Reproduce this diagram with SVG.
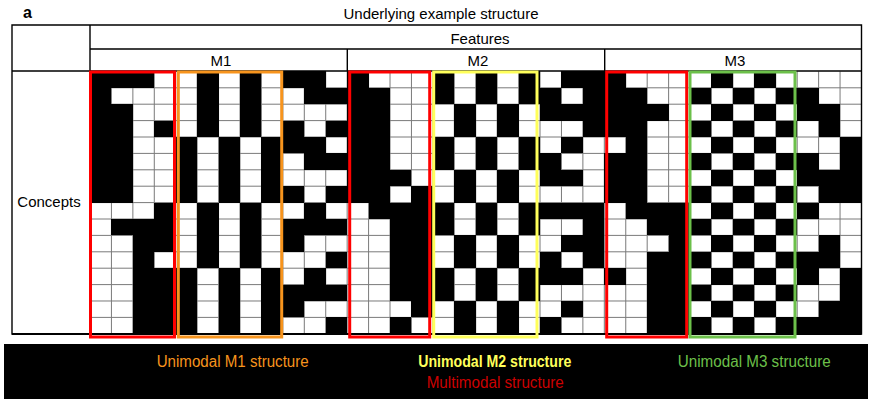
<svg xmlns="http://www.w3.org/2000/svg" width="872" height="402" viewBox="0 0 872 402">
<style>
text{font-family:"Liberation Sans",Arial,sans-serif;font-size:15px;fill:#000}
.c{text-anchor:middle}
.tl{fill:none;stroke:#000;stroke-width:1.4}
.gl{fill:none;stroke:#7a7a7a;stroke-width:1}
.k{fill:#000;shape-rendering:crispEdges}
.box{fill:none;stroke-width:3}
.lg{font-size:16px}
</style>
<rect width="872" height="402" fill="#fff"/>
<text x="23" y="18" style="font-weight:bold;font-size:16px">a</text>
<text class="c" x="441" y="18.5">Underlying example structure</text>

<g id="grid">
<g transform="translate(90 71.4) scale(21.43 16.4)">
<path class="gl" vector-effect="non-scaling-stroke" d="M1 0V16M2 0V16M3 0V16M4 0V16M5 0V16M6 0V16M7 0V16M8 0V16M9 0V16M10 0V16M11 0V16M12 0V16M13 0V16M14 0V16M15 0V16M16 0V16M17 0V16M18 0V16M19 0V16M20 0V16M21 0V16M22 0V16M23 0V16M24 0V16M25 0V16M26 0V16M27 0V16M28 0V16M29 0V16M30 0V16M31 0V16M32 0V16M33 0V16M34 0V16M35 0V16M0 1H36M0 2H36M0 3H36M0 4H36M0 5H36M0 6H36M0 7H36M0 8H36M0 9H36M0 10H36M0 11H36M0 12H36M0 13H36M0 14H36M0 15H36"/>
<path class="k" d="M0 0h3v1h-3zM5 0h1v1h-1zM7 0h1v1h-1zM9 0h2v1h-2zM12 0h1v1h-1zM16 0h1v1h-1zM18 0h1v1h-1zM20 0h1v1h-1zM22 0h3v1h-3zM29 0h1v1h-1zM31 0h1v1h-1z
M0 1h1v1h-1zM5 1h1v1h-1zM7 1h1v1h-1zM10 1h4v1h-4zM16 1h1v1h-1zM18 1h1v1h-1zM20 1h2v1h-2zM23 1h3v1h-3zM28 1h1v1h-1zM30 1h1v1h-1zM32 1h2v1h-2z
M0 2h2v1h-2zM5 2h1v1h-1zM7 2h1v1h-1zM12 2h2v1h-2zM17 2h1v1h-1zM19 2h1v1h-1zM21 2h6v1h-6zM29 2h1v1h-1zM31 2h1v1h-1zM33 2h2v1h-2z
M0 3h2v1h-2zM3 3h1v1h-1zM5 3h1v1h-1zM7 3h1v1h-1zM9 3h1v1h-1zM11 3h3v1h-3zM17 3h1v1h-1zM19 3h1v1h-1zM23 3h3v1h-3zM28 3h1v1h-1zM30 3h1v1h-1zM32 3h1v1h-1zM34 3h1v1h-1z
M0 4h2v1h-2zM4 4h1v1h-1zM6 4h1v1h-1zM8 4h3v1h-3zM12 4h2v1h-2zM16 4h1v1h-1zM18 4h1v1h-1zM20 4h1v1h-1zM22 4h1v1h-1zM25 4h1v1h-1zM29 4h1v1h-1zM31 4h1v1h-1zM35 4h1v1h-1z
M0 5h2v1h-2zM4 5h1v1h-1zM6 5h1v1h-1zM8 5h1v1h-1zM10 5h4v1h-4zM16 5h1v1h-1zM18 5h1v1h-1zM20 5h2v1h-2zM24 5h2v1h-2zM28 5h1v1h-1zM30 5h1v1h-1zM32 5h2v1h-2zM35 5h1v1h-1z
M0 6h2v1h-2zM4 6h1v1h-1zM6 6h1v1h-1zM8 6h1v1h-1zM12 6h3v1h-3zM17 6h1v1h-1zM19 6h1v1h-1zM21 6h2v1h-2zM24 6h2v1h-2zM29 6h1v1h-1zM31 6h1v1h-1zM33 6h3v1h-3z
M0 7h2v1h-2zM4 7h1v1h-1zM6 7h1v1h-1zM8 7h2v1h-2zM11 7h3v1h-3zM15 7h1v1h-1zM17 7h1v1h-1zM19 7h1v1h-1zM24 7h2v1h-2zM28 7h1v1h-1zM30 7h1v1h-1zM32 7h1v1h-1zM34 7h2v1h-2z
M3 8h1v1h-1zM5 8h1v1h-1zM7 8h1v1h-1zM10 8h1v1h-1zM13 8h4v1h-4zM18 8h1v1h-1zM20 8h4v1h-4zM25 8h3v1h-3zM29 8h1v1h-1zM31 8h1v1h-1zM33 8h1v1h-1z
M1 9h3v1h-3zM5 9h1v1h-1zM7 9h1v1h-1zM9 9h3v1h-3zM14 9h3v1h-3zM18 9h1v1h-1zM20 9h1v1h-1zM23 9h1v1h-1zM26 9h3v1h-3zM30 9h1v1h-1zM32 9h1v1h-1z
M2 10h2v1h-2zM5 10h1v1h-1zM7 10h1v1h-1zM9 10h1v1h-1zM14 10h2v1h-2zM17 10h1v1h-1zM19 10h1v1h-1zM22 10h2v1h-2zM27 10h1v1h-1zM29 10h1v1h-1zM31 10h1v1h-1zM34 10h1v1h-1z
M2 11h1v1h-1zM5 11h1v1h-1zM7 11h1v1h-1zM11 11h1v1h-1zM14 11h2v1h-2zM17 11h1v1h-1zM19 11h1v1h-1zM21 11h1v1h-1zM23 11h1v1h-1zM26 11h3v1h-3zM30 11h1v1h-1zM32 11h3v1h-3z
M2 12h3v1h-3zM6 12h1v1h-1zM8 12h1v1h-1zM10 12h1v1h-1zM14 12h3v1h-3zM18 12h1v1h-1zM20 12h3v1h-3zM24 12h1v1h-1zM26 12h2v1h-2zM29 12h1v1h-1zM31 12h1v1h-1zM33 12h1v1h-1zM35 12h1v1h-1z
M2 13h3v1h-3zM6 13h1v1h-1zM8 13h4v1h-4zM14 13h3v1h-3zM18 13h1v1h-1zM20 13h1v1h-1zM26 13h3v1h-3zM30 13h1v1h-1zM32 13h1v1h-1zM35 13h1v1h-1z
M2 14h3v1h-3zM6 14h1v1h-1zM8 14h2v1h-2zM15 14h1v1h-1zM17 14h1v1h-1zM19 14h1v1h-1zM22 14h1v1h-1zM26 14h2v1h-2zM29 14h1v1h-1zM31 14h1v1h-1zM34 14h2v1h-2z
M2 15h3v1h-3zM6 15h1v1h-1zM8 15h1v1h-1zM11 15h1v1h-1zM14 15h1v1h-1zM17 15h1v1h-1zM19 15h1v1h-1zM21 15h1v1h-1zM26 15h3v1h-3zM30 15h1v1h-1zM32 15h4v1h-4z"/>
</g>
</g>

<g id="table">
<path class="tl" d="M12 25H861.5V334H12ZM90 25V334M90 49H861.5M12 71H861.5M347.3 49V71M604.7 49V71"/>
<path d="M12 334H861.5" stroke="#000" stroke-width="2"/>
<text class="c" x="480" y="44">Features</text>
<text class="c" x="221" y="65.5">M1</text>
<text class="c" x="478" y="65.5">M2</text>
<text class="c" x="735" y="65.5">M3</text>
<text class="c" x="49" y="207.3">Concepts</text>
</g>

<g id="boxes">
<rect class="box" x="90.5" y="72" width="84" height="265" stroke="#ff0000"/>
<rect class="box" x="178.3" y="72" width="103.4" height="265" stroke="#f7941d"/>
<rect class="box" x="349.7" y="72" width="80" height="265" stroke="#ff0000"/>
<rect class="box" x="433.7" y="72" width="103.3" height="265" stroke="#ffff5a"/>
<rect class="box" x="606.7" y="72" width="80" height="265" stroke="#ff0000"/>
<rect class="box" x="690" y="72" width="105" height="265" stroke="#6cc04a"/>
</g>

<g id="legend">
<rect x="4" y="344" width="864" height="55" fill="#000"/>
<text class="lg" x="156.7" y="367.3" textLength="152" lengthAdjust="spacingAndGlyphs" style="fill:#f7941d">Unimodal M1 structure</text>
<text class="lg" x="418.3" y="366.7" textLength="153" lengthAdjust="spacingAndGlyphs" style="fill:#ffff5a;font-weight:bold">Unimodal M2 structure</text>
<text class="lg" x="677.8" y="367.3" textLength="153" lengthAdjust="spacingAndGlyphs" style="fill:#6cc04a">Unimodal M3 structure</text>
<text class="lg" x="426.7" y="388.3" textLength="137" lengthAdjust="spacingAndGlyphs" style="fill:#cc0000">Multimodal structure</text>
</g>
</svg>
